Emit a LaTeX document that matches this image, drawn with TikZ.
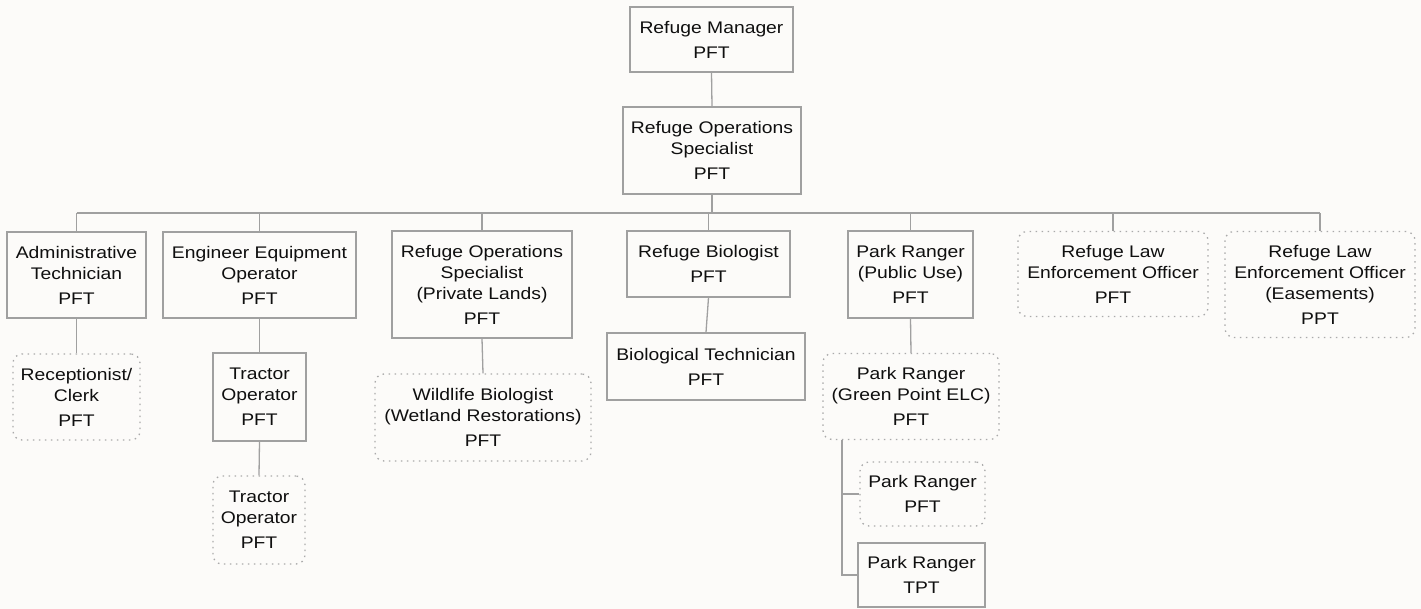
\documentclass[tikz,border=0pt]{standalone}
\usepackage{fontspec}
\setmainfont{Liberation Sans}[FakeStretch=1.15]
\definecolor{bg}{RGB}{252,251,249}
\definecolor{ln}{RGB}{160,160,160}
\definecolor{dl}{RGB}{170,170,170}
\definecolor{txt}{RGB}{15,15,15}
\begin{document}
\begin{tikzpicture}[x=1pt,y=-1pt,
  box/.style={draw=ln, line width=1.3pt, align=center, inner sep=0pt,
    font=\fontsize{16.8}{21}\selectfont, text=txt},
  dotbox/.style={box, draw=dl, dash pattern=on 1.5pt off 4.5pt, rounded corners=9pt},
  conn/.style={draw=ln, line width=1.3pt}]
\fill[bg] (0,0) rectangle (1421,609);
\useasboundingbox (0,0) rectangle (1421,609);
% level 0/1
\node[box, minimum width=163pt, minimum height=65pt] (mgr) at (711.5,39.5) {Refuge Manager\\[4pt]PFT};
\node[box, minimum width=178pt, minimum height=87pt] (ros) at (712,150.5) {Refuge Operations\\Specialist\\[4pt]PFT};
% level 2
\node[box, minimum width=139pt, minimum height=86pt] (adm) at (76.5,275) {Administrative\\Technician\\[4pt]PFT};
\node[box, minimum width=193pt, minimum height=86pt] (eeo) at (259.5,275) {Engineer Equipment\\Operator\\[4pt]PFT};
\node[box, minimum width=180pt, minimum height=107pt] (rosp) at (482,284.5) {Refuge Operations\\Specialist\\(Private Lands)\\[4pt]PFT};
\node[box, minimum width=163pt, minimum height=66pt] (bio) at (708.5,264) {Refuge Biologist\\[4pt]PFT};
\node[box, minimum width=125pt, minimum height=87pt] (prpub) at (910.5,274.5) {Park Ranger\\(Public Use)\\[4pt]PFT};
\node[dotbox, minimum width=190pt, minimum height=85pt] (rleo) at (1113,274) {Refuge Law\\Enforcement Officer\\[4pt]PFT};
\node[dotbox, minimum width=190pt, minimum height=106pt] (eas) at (1320,284.5) {Refuge Law\\Enforcement Officer\\(Easements)\\[4pt]PPT};
% level 3+
\node[dotbox, minimum width=127pt, minimum height=86pt] (rec) at (76.5,397) {Receptionist/\\Clerk\\[4pt]PFT};
\node[box, minimum width=93pt, minimum height=88pt] (tr1) at (259.5,397) {Tractor\\Operator\\[4pt]PFT};
\node[dotbox, minimum width=92pt, minimum height=88pt] (tr2) at (259,520) {Tractor\\Operator\\[4pt]PFT};
\node[dotbox, minimum width=216pt, minimum height=87pt] (wb) at (483,417.5) {Wildlife Biologist\\(Wetland Restorations)\\[4pt]PFT};
\node[box, minimum width=198pt, minimum height=67pt] (bt) at (706,366.5) {Biological Technician\\[4pt]PFT};
\node[dotbox, minimum width=176pt, minimum height=86pt] (gp) at (911,396.5) {Park Ranger\\(Green Point ELC)\\[4pt]PFT};
\node[dotbox, minimum width=125pt, minimum height=64pt] (prp) at (922.5,494) {Park Ranger\\[4pt]PFT};
\node[box, minimum width=127pt, minimum height=64pt] (prt) at (921.5,575) {Park Ranger\\[4pt]TPT};
% connectors
\coordinate (bus) at (712,213);
\coordinate (gpleg) at (842,439.5);
\draw[conn] (mgr.south) -- (ros.north);
\draw[conn] (ros.south) -- (bus);
\draw[conn] (adm.north |- bus) -- (eas.north |- bus);
\foreach \n in {adm,eeo,rosp,bio,prpub,rleo,eas} \draw[conn] (\n.north) -- (\n.north |- bus);
\draw[conn] (adm.south) -- (rec.north);
\draw[conn] (eeo.south) -- (tr1.north);
\draw[conn] (tr1.south) -- (tr2.north);
\draw[conn] (rosp.south) -- (wb.north);
\draw[conn] (bio.south) -- (bt.north);
\draw[conn] (prpub.south) -- (gp.north);
\draw[conn] (gpleg) |- (prt.west);
\draw[conn] (prp.west) -- (prp.west -| gpleg);
\end{tikzpicture}
\end{document}
